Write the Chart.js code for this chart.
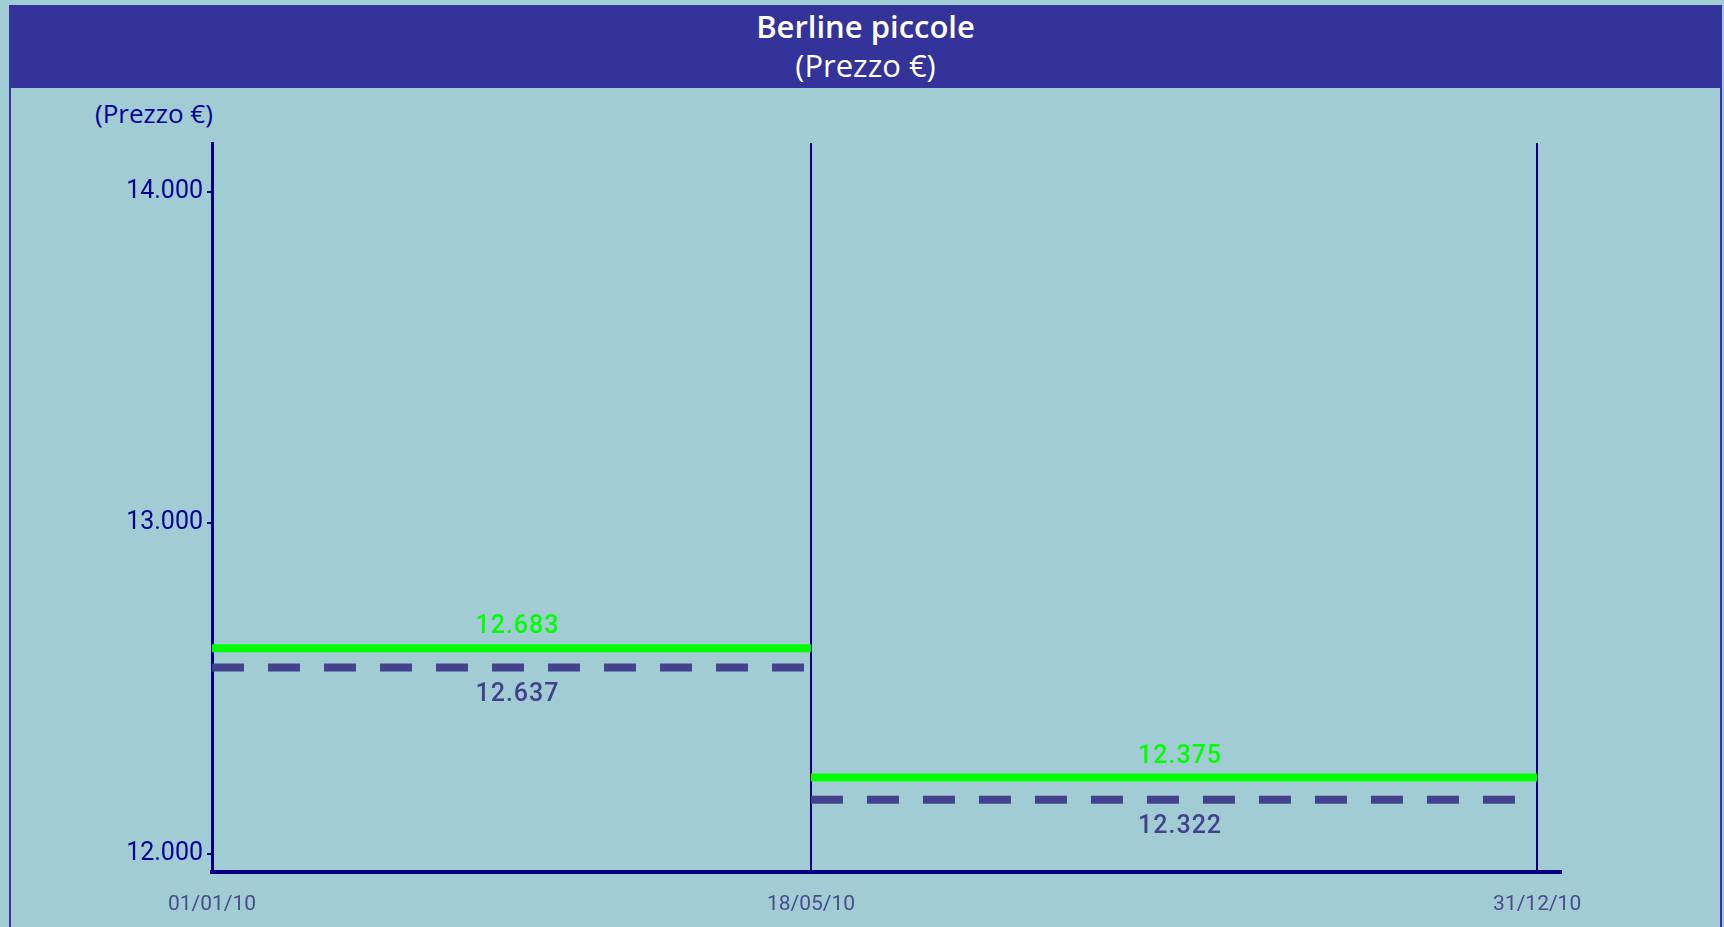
<!DOCTYPE html>
<html>
<head>
<meta charset="utf-8">
<script src="https://cdn.jsdelivr.net/npm/chart.js@4/dist/chart.umd.min.js"></script>
<style>
    html, body { margin: 0; padding: 0; background: #a2ccd3; overflow: hidden; }
    #frame {
        position: absolute; left: 9px; top: 5px; width: 1709px; height: 940px;
        border-left: 2px solid #3535a3; border-right: 2px solid #3535a3;
    }
    #header {
        position: absolute; left: 9px; top: 5px; width: 1713px; height: 83px;
        background: #333399; color: #fff; text-align: center;
        font-family: "Open Sans", sans-serif;
    }
    #header .t1 { position: absolute; left: 0; right: 0; top: 2px; font-size: 31px; font-weight: 600; line-height: 38px; }
    #header .t2 { position: absolute; left: 0; right: 0; top: 41px; font-size: 31px; line-height: 38px; }
    #yTitle {
        position: absolute; left: 95px; top: 96px; color: #00009a;
        font-family: "Open Sans", sans-serif; font-size: 26px; line-height: 34px;
    }
    #wrap { position: absolute; left: 0; top: 0; width: 1724px; height: 927px; }
</style>
</head>
<body>
<div id="frame"></div>
<div id="header"><div class="t1">Berline piccole</div><div class="t2">(Prezzo €)</div></div>
<div id="yTitle">(Prezzo €)</div>
<div id="wrap"><canvas id="chart"></canvas></div>
<script>
// date dei periodi e loro posizione sull'asse
const periodLabels = ['01/01/10', '18/05/10', '31/12/10'];
const periodPos = [0, 0.452, 1];
// prezzi per periodo
const prezzoVerde = [12683, 12375];
const prezzoBlu = [12637, 12322];
// tacche asse y
const yTicks = [12000, 13000, 14000];

function fmt(v) {
    return String(v).replace(/\B(?=(\d{3})+(?!\d))/g, '.');
}

const datasets = [];
for (let i = 0; i < prezzoVerde.length; i++) {
    datasets.push({
        label: 'verde' + i,
        data: [{ x: periodPos[i], y: prezzoVerde[i] }, { x: periodPos[i + 1], y: prezzoVerde[i] }],
        borderColor: '#00ff00',
        borderWidth: 8,
        borderCapStyle: 'butt',
        pointRadius: 0,
        yAxisID: 'y2',
        valueColor: '#00ff00',
        valueOffset: -21
    });
    datasets.push({
        label: 'blu' + i,
        data: [{ x: periodPos[i], y: prezzoBlu[i] }, { x: periodPos[i + 1], y: prezzoBlu[i] }],
        borderColor: '#42428c',
        borderWidth: 8,
        borderDash: [32, 24],
        borderCapStyle: 'butt',
        pointRadius: 0,
        yAxisID: 'y2',
        valueColor: '#42428c',
        valueOffset: 27
    });
}

// scrive il valore sopra/sotto ogni segmento
const valueLabels = {
    id: 'valueLabels',
    afterDatasetsDraw(chart) {
        const ctx = chart.ctx;
        const xs = chart.scales.x;
        const ys = chart.scales.y2;
        ctx.save();
        ctx.font = '500 25px Roboto';
        ctx.letterSpacing = '1px';
        ctx.textAlign = 'center';
        ctx.textBaseline = 'middle';
        chart.data.datasets.forEach(ds => {
            const p0 = ds.data[0], p1 = ds.data[1];
            const x = (xs.getPixelForValue(p0.x) + xs.getPixelForValue(p1.x)) / 2 + 6;
            const y = ys.getPixelForValue(p0.y) + ds.valueOffset;
            ctx.fillStyle = ds.valueColor;
            ctx.fillText(fmt(p0.y), x, y);
        });
        ctx.restore();
    }
};

const ctx = document.getElementById('chart').getContext('2d');
const chart = new Chart(ctx, {
    type: 'line',
    data: { datasets: datasets },
    options: {
        responsive: true,
        maintainAspectRatio: false,
        animation: false,
        layout: { padding: { left: 92, top: 143, right: 163, bottom: 0 } },
        plugins: { legend: { display: false }, tooltip: { enabled: false } },
        scales: {
            x: {
                type: 'linear',
                min: 0,
                max: 1.018,
                afterBuildTicks: scale => { scale.ticks = periodPos.map(v => ({ value: v })); },
                afterFit: scale => { scale.height = 55; },
                ticks: {
                    callback: (v, i) => periodLabels[i],
                    color: '#4b4b8f',
                    font: { family: 'Roboto', size: 21 },
                    padding: 20,
                    maxRotation: 0,
                    autoSkip: false
                },
                grid: {
                    color: c => c.tick && c.tick.value === 0 ? 'rgba(0,0,0,0)' : '#000080',
                    lineWidth: 2,
                    drawTicks: false
                },
                border: { color: '#000080', width: 4 }
            },
            y: {
                min: 11946,
                max: 14148,
                afterBuildTicks: scale => { scale.ticks = yTicks.map(v => ({ value: v })); },
                afterFit: scale => { scale.width = 120; },
                ticks: {
                    callback: v => fmt(v),
                    color: '#000095',
                    font: { family: 'Roboto', size: 25 },
                    padding: 4
                },
                grid: {
                    drawOnChartArea: false,
                    color: '#000080',
                    lineWidth: 2,
                    tickLength: 5
                },
                border: { color: '#000080', width: 3 }
            },
            y2: {
                display: false,
                min: 12150,
                max: 13886
            }
        }
    },
    plugins: [valueLabels]
});
</script>
</body>
</html>
